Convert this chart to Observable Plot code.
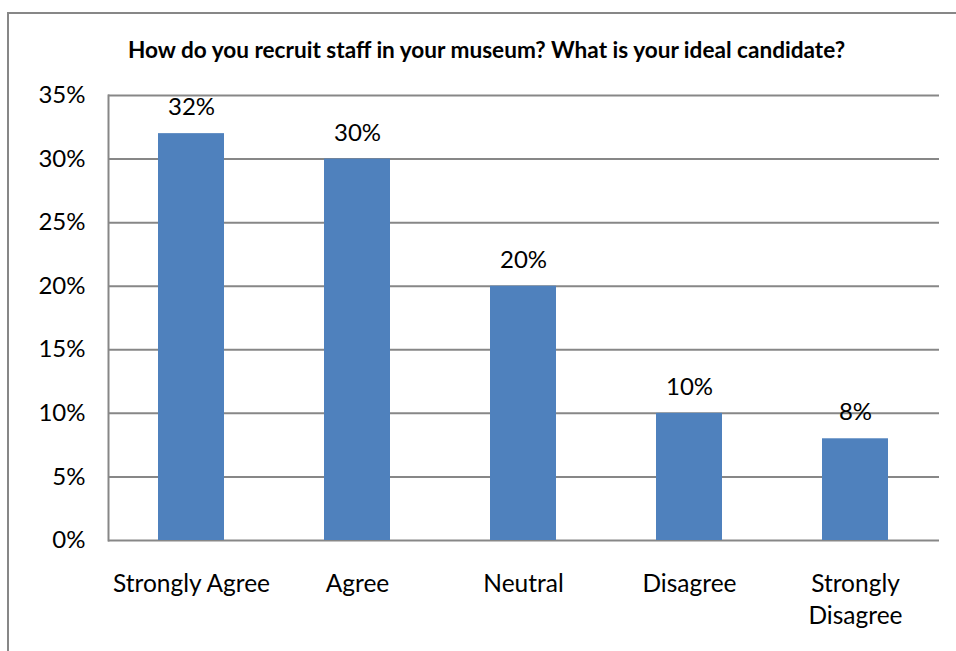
<!DOCTYPE html>
<html>
<head>
<meta charset="utf-8">
<script src="https://cdn.jsdelivr.net/npm/d3@7"></script>
<script src="https://cdn.jsdelivr.net/npm/@observablehq/plot@0.6"></script>
<style>
  html, body { margin: 0; padding: 0; background: #fff; }
  #wrap { position: relative; width: 956px; height: 651px; overflow: hidden; font-family: Lato, "Open Sans", sans-serif; }
  #border { position: absolute; left: 7px; top: 12px; width: 1000px; height: 700px; border-left: 2px solid #878787; border-top: 2px solid #878787; }
  #title { position: absolute; left: 0; width: 973px; top: 36px; line-height: 1.2; text-align: center; font-weight: bold; font-size: 22.6px; color: #000; white-space: nowrap; }
  #chart { position: absolute; left: 0; top: 0; }
</style>
</head>
<body>
<div id="wrap">
  <div id="border"></div>
  <div id="chart"></div>
  <div id="title">How do you recruit staff in your museum? What is your ideal candidate?</div>
</div>
<script>
const categories = ["Strongly Agree", "Agree", "Neutral", "Disagree", "Strongly Disagree"];
const tickLabels = ["Strongly Agree", "Agree", "Neutral", "Disagree", "Strongly\nDisagree"];
const values = [0.32, 0.30, 0.20, 0.10, 0.08];
const yTicks = [0, 0.05, 0.10, 0.15, 0.20, 0.25, 0.30, 0.35];

const data = categories.map((c, i) => ({category: c, value: values[i]}));
const labelOf = new Map(categories.map((c, i) => [c, tickLabels[i]]));

const plot = Plot.plot({
  width: 956,
  height: 651,
  marginLeft: 108,
  marginRight: 17,
  marginTop: 95,
  marginBottom: 111,
  style: {fontFamily: "Lato, 'Open Sans', sans-serif", fontSize: "24px", color: "#000", background: "transparent"},
  x: {domain: categories, paddingInner: 0.6, paddingOuter: 0.3, label: null},
  y: {domain: [0, 0.35], label: null},
  marks: [
    Plot.ruleY(yTicks, {stroke: "#878787", strokeWidth: 2}),
    Plot.frame({anchor: "left", stroke: "#878787", strokeWidth: 2}),
    Plot.barY(data, {x: "category", y: "value", fill: "#4F81BD"}),
    Plot.text(data, {x: "category", y: "value", text: d => Math.round(d.value * 100) + "%", lineAnchor: "middle", dy: -26, fontSize: 24, fill: "#000"}),
    Plot.axisY({ticks: yTicks, tickSize: 0, tickPadding: 23, tickFormat: d => Math.round(d * 100) + "%", fontSize: 24, fill: "#000"}),
    Plot.axisX({tickSize: 0, tickPadding: 28, tickFormat: d => labelOf.get(d), fontSize: 24.5, lineHeight: 1.33, fill: "#000"})
  ]
});
document.getElementById("chart").appendChild(plot);
</script>
</body>
</html>
